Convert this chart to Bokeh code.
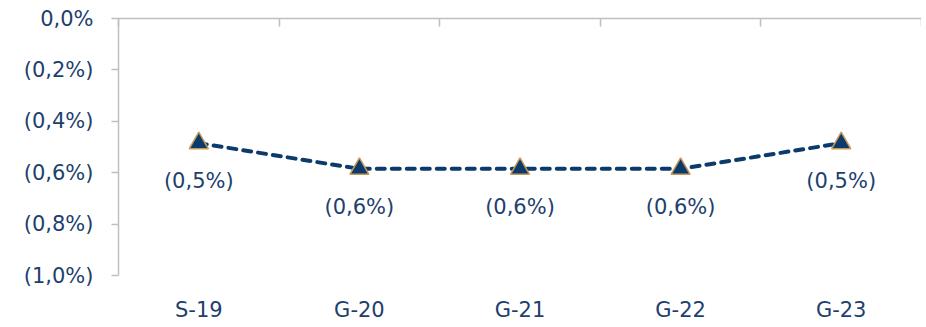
from bokeh.plotting import figure
from bokeh.models import LinearAxis, FixedTicker, Range1d, ColumnDataSource
from bokeh.embed import file_html
from bokeh.resources import INLINE
from bokeh.core.properties import value

categories = ["S-19", "G-20", "G-21", "G-22", "G-23"]
values = [-0.485, -0.585, -0.585, -0.585, -0.485]
y_ticks = [0.0, -0.2, -0.4, -0.6, -0.8, -1.0]
y_tick_labels = ["0,0%", "(0,2%)", "(0,4%)", "(0,6%)", "(0,8%)", "(1,0%)"]

FONT = "DejaVu Sans"
FSIZE = "21px"
TXT = "#1E3F6E"
NAVY = "#0B3A6B"
GOLD = "#C49A5A"
GRID = "#BFBFBF"

xs = [i + 0.5 for i in range(len(categories))]
labels = ["(" + f"{abs(v):.1f}".replace(".", ",") + "%)" for v in values]
src = ColumnDataSource(dict(x=xs, y=values, lab=labels))

p = figure(width=921, height=327, output_backend="svg", toolbar_location=None,
           x_range=Range1d(0, len(categories)), y_range=Range1d(-1.0, 0.0),
           x_axis_location=None, y_axis_location=None,
           min_border_left=118, min_border_right=0, min_border_top=18, min_border_bottom=52)
p.outline_line_color = None
p.xgrid.grid_line_color = None
p.ygrid.grid_line_color = None

# left axis
ya = LinearAxis(ticker=FixedTicker(ticks=y_ticks))
ya.major_label_overrides = {t: l for t, l in zip(y_ticks, y_tick_labels)}
ya.axis_line_color = GRID
ya.axis_line_width = 1.5
ya.major_tick_line_color = GRID
ya.major_tick_line_width = 1.5
ya.major_tick_out = 7
ya.major_tick_in = 0
ya.minor_tick_line_color = None
ya.major_label_standoff = 18
ya.major_label_text_font = FONT
ya.major_label_text_font_size = FSIZE
ya.major_label_text_color = TXT
p.add_layout(ya, "left")

# top axis (line at zero with boundary ticks)
top_ticks = list(range(len(categories) + 1))
ta = LinearAxis(ticker=FixedTicker(ticks=top_ticks))
ta.major_label_overrides = {t: "" for t in top_ticks}
ta.axis_line_color = GRID
ta.axis_line_width = 1.5
ta.major_tick_line_color = GRID
ta.major_tick_line_width = 1.5
ta.major_tick_in = 8
ta.major_tick_out = 0
ta.minor_tick_line_color = None
ta.major_label_standoff = 0
p.add_layout(ta, "above")

# bottom category labels
ba = LinearAxis(ticker=FixedTicker(ticks=xs))
ba.major_label_overrides = {x: c for x, c in zip(xs, categories)}
ba.axis_line_color = None
ba.major_tick_line_color = None
ba.minor_tick_line_color = None
ba.major_label_standoff = 16
ba.major_label_text_font = FONT
ba.major_label_text_font_size = FSIZE
ba.major_label_text_color = TXT
p.add_layout(ba, "below")

p.line("x", "y", source=src, line_color=NAVY, line_width=4, line_dash="8 7", line_cap="round")
p.scatter("x", "y", source=src, marker="triangle", size=19, fill_color=NAVY,
          line_color=GOLD, line_width=1.5)
p.text("x", "y", text="lab", source=src, text_font=value(FONT), text_font_size=FSIZE,
       text_color=TXT, text_align="center", text_baseline="middle", y_offset=38)

open("out.html", "w").write(file_html(p, INLINE))
